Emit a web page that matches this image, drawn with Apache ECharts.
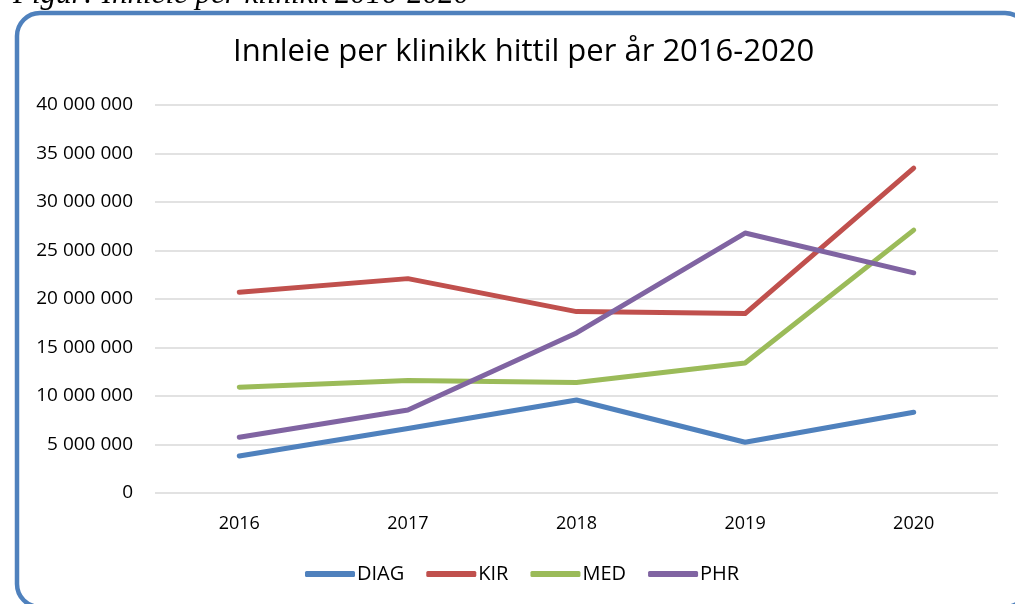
<!DOCTYPE html>
<html>
<head>
<meta charset="utf-8">
<script src="https://cdn.jsdelivr.net/npm/echarts@6/dist/echarts.min.js"></script>
<style>
  html, body { margin: 0; padding: 0; background: #fff; }
  #chart { width: 1015px; height: 604px; }
</style>
</head>
<body>
<div id="chart"></div>
<script>
// 数据
const years = ['2016', '2017', '2018', '2019', '2020']
const diag = [3810000, 6650000, 9590000, 5230000, 8330000]
const kir = [20700000, 22100000, 18700000, 18500000, 33500000]
const med = [10900000, 11600000, 11400000, 13400000, 27100000]
const phr = [5740000, 8560000, 16500000, 26800000, 22700000]
const yTicks = { min: 0, max: 40000000, interval: 5000000 }

const font = '"Open Sans", sans-serif'

// 数字加空格分组
function fmt(v) {
  return String(v).replace(/\B(?=(\d{3})+(?!\d))/g, ' ')
}

const keys = {
  DIAG: { data: diag, color: '#4F81BD' },
  KIR: { data: kir, color: '#C0504D' },
  MED: { data: med, color: '#9BBB59' },
  PHR: { data: phr, color: '#8064A2' }
}

const seriesData = []
for (const name in keys) {
  seriesData.push({
    name,
    type: 'line',
    data: keys[name].data,
    symbol: 'none',
    lineStyle: { width: 5, color: keys[name].color, cap: 'round', join: 'round' },
    itemStyle: { color: keys[name].color }
  })
}

const myChart = echarts.init(document.getElementById('chart'), null, { renderer: 'canvas' })

const option = {
  animation: false,
  textStyle: { fontFamily: font },

  title: {
    text: 'Innleie per klinikk hittil per år 2016-2020',
    left: 228,
    top: 32,
    textStyle: { fontFamily: font, fontSize: 31, fontWeight: 'normal', color: '#000' }
  },

  graphic: [
    // 外框
    {
      type: 'rect',
      shape: { x: 17, y: 13, width: 1011, height: 594, r: 23 },
      style: { fill: 'none', stroke: '#4F81BD', lineWidth: 4.5 },
      z: 100
    },
    // 图注（被裁切）
    {
      type: 'text',
      left: 13,
      top: -21,
      style: {
        text: 'Figur: Innleie per klinikk 2016-2020',
        font: 'italic 31px "Liberation Serif", serif',
        fill: '#000'
      }
    }
  ],

  grid: { left: 155, right: 17, top: 105, bottom: 111 },

  legend: {
    bottom: 15,
    left: 300,
    itemWidth: 50,
    itemHeight: 6,
    itemGap: 22,
    icon: 'roundRect',
    textStyle: { fontFamily: font, fontSize: 20, color: '#000', padding: [0, 0, 0, -3] },
    data: Object.keys(keys)
  },

  xAxis: {
    type: 'category',
    data: years,
    boundaryGap: true,
    axisLine: { show: false },
    axisTick: { show: false },
    axisLabel: { fontSize: 18, color: '#000', margin: 22 }
  },

  yAxis: {
    type: 'value',
    ...yTicks,
    axisLine: { show: false },
    axisTick: { show: false },
    axisLabel: { fontSize: 19, color: '#000', margin: 22, formatter: fmt },
    splitLine: { lineStyle: { color: '#D9D9D9', width: 1.5 } }
  },

  series: seriesData
}

myChart.setOption(option)
</script>
</body>
</html>
